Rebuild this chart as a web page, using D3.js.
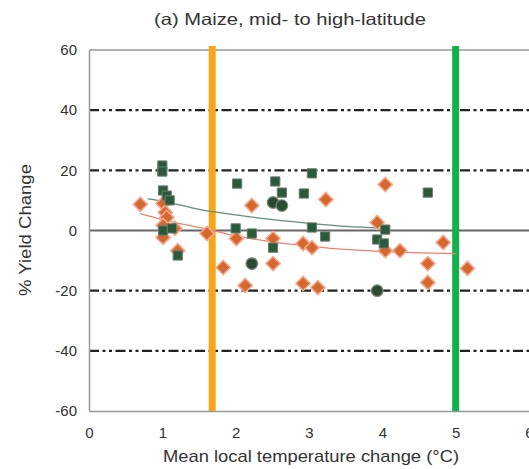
<!DOCTYPE html>
<html>
<head>
<meta charset="utf-8">
<script src="https://cdn.jsdelivr.net/npm/d3@7"></script>
<style>
  body { margin: 0; background: #fff; }
  text { font-family: "Liberation Sans", Arial, sans-serif; fill: #333; }
</style>
</head>
<body>
<div id="chart"></div>
<script>
// orange diamonds: [temp change, yield change]
var diamondX = [0.70, 1.01, 1.04, 1.06, 1.01, 1.17, 1.01, 1.21, 1.61, 1.83, 2.22, 2.01, 2.13, 2.51, 2.51, 2.92, 3.04, 2.92, 3.12, 3.23, 3.93, 4.04, 4.04, 4.24, 4.62, 4.62, 4.83, 5.16];
var diamondY = [8.7, 9.0, 6.0, 4.3, 1.7, 0.7, -2.3, -6.7, -1.0, -12.3, 8.3, -2.7, -18.3, -2.7, -11.0, -4.3, -5.7, -17.6, -19.0, 10.3, 2.7, 15.3, -6.7, -6.7, -11.0, -17.3, -4.0, -12.6];

// dark green squares
var squareX = [1.0, 1.0, 1.01, 1.06, 1.1, 1.01, 1.13, 1.21, 2.02, 2.0, 2.22, 2.54, 2.63, 2.93, 3.04, 2.51, 3.04, 3.22, 4.62, 4.04, 3.93, 4.02];
var squareY = [21.6, 19.6, 13.3, 11.6, 10.0, 0.0, 0.7, -8.3, 15.6, 0.7, -1.0, 16.3, 12.6, 12.3, 19.0, -5.7, 1.0, -2.0, 12.6, 0.3, -3.0, -4.3];

// dark green circles
var circleX = [2.51, 2.63, 2.22, 3.93];
var circleY = [9.3, 8.3, -11.0, -20.0];

// fitted curves
var greenFitX = [0.8, 1.0, 1.5, 2.0, 2.5, 3.0, 3.5, 4.0];
var greenFitY = [10.5, 9.8, 7.0, 5.2, 3.6, 2.4, 1.4, 0.8];
var orangeFitX = [0.7, 1.0, 1.6, 2.0, 2.5, 3.0, 3.5, 4.0, 5.0];
var orangeFitY = [5.6, 3.6, 0.5, -1.8, -3.8, -5.2, -6.3, -7.0, -7.7];

var xTicks = [0, 1, 2, 3, 4, 5, 6];
var yTicks = [-60, -40, -20, 0, 20, 40, 60];
var dashLevels = [-40, -20, 20, 40];
var orangeLineX = 1.68;
var greenLineX = 5.0;

var W = 529, H = 469;
var svg = d3.select("#chart").append("svg")
    .attr("width", W).attr("height", H);

var x = d3.scaleLinear().domain([0, 6]).range([89, 529]);
var y = d3.scaleLinear().domain([-60, 60]).range([411, 50]);

// frame top
svg.append("line")
    .attr("x1", x(0)).attr("x2", W)
    .attr("y1", y(60)).attr("y2", y(60))
    .attr("stroke", "#999").attr("stroke-width", 1.5);

// dash-dot reference lines
svg.selectAll(".dash")
    .data(dashLevels)
    .enter()
    .append("line")
        .attr("x1", x(0)).attr("x2", W)
        .attr("y1", function(d) { return y(d); })
        .attr("y2", function(d) { return y(d); })
        .attr("stroke", "#222").attr("stroke-width", 2.4)
        .attr("stroke-dasharray", "10,3.5,3,3.5,3,3.5");

// zero line
svg.append("line")
    .attr("x1", x(0)).attr("x2", W)
    .attr("y1", y(0)).attr("y2", y(0))
    .attr("stroke", "#666").attr("stroke-width", 1.8);

// axes
var yAxis = svg.append("g")
    .attr("transform", "translate(" + x(0) + ",0)")
    .call(d3.axisLeft(y).tickValues(yTicks).tickSize(0).tickPadding(12)
        .tickFormat(function(d) { return String(d); }));
yAxis.select(".domain").attr("stroke", "#999").attr("stroke-width", 1.5);
yAxis.selectAll("text").style("font-size", "15px").attr("fill", "#333");

var xAxis = svg.append("g")
    .attr("transform", "translate(0," + y(-60) + ")")
    .call(d3.axisBottom(x).tickValues(xTicks).tickSize(0).tickPadding(16).tickFormat(d3.format("d")));
xAxis.select(".domain").attr("stroke", "#999").attr("stroke-width", 1.5);
xAxis.selectAll("text").style("font-size", "15px").attr("fill", "#333");

// vertical threshold lines
svg.append("line")
    .attr("x1", x(orangeLineX)).attr("x2", x(orangeLineX))
    .attr("y1", y(60) - 4).attr("y2", y(-60))
    .attr("stroke", "#f9a51a").attr("stroke-width", 7);
svg.append("line")
    .attr("x1", x(greenLineX)).attr("x2", x(greenLineX))
    .attr("y1", y(60) - 4).attr("y2", y(-60))
    .attr("stroke", "#13b14b").attr("stroke-width", 7);

// fit curves
var line = d3.line()
    .x(function(d) { return x(d[0]); })
    .y(function(d) { return y(d[1]); })
    .curve(d3.curveMonotoneX);

svg.append("path")
    .datum(greenFitX.map(function(v, i) { return [v, greenFitY[i]]; }))
    .attr("d", line)
    .attr("fill", "none").attr("stroke", "#5f8f78").attr("stroke-width", 1.3);

svg.append("path")
    .datum(orangeFitX.map(function(v, i) { return [v, orangeFitY[i]]; }))
    .attr("d", line)
    .attr("fill", "none").attr("stroke", "#f08070").attr("stroke-width", 1.3);

// diamonds
var diamond = d3.symbol().type(d3.symbolSquare).size(100);
svg.selectAll(".dia")
    .data(diamondX.map(function(v, i) { return [v, diamondY[i]]; }))
    .enter()
    .append("path")
        .attr("d", diamond)
        .attr("transform", function(d) { return "translate(" + x(d[0]) + "," + y(d[1]) + ") rotate(45)"; })
        .attr("fill", "#d6672f")
        .attr("stroke", "#f2a88c")
        .attr("stroke-width", 1.6);

// squares
var square = d3.symbol().type(d3.symbolSquare).size(85);
svg.selectAll(".sq")
    .data(squareX.map(function(v, i) { return [v, squareY[i]]; }))
    .enter()
    .append("path")
        .attr("d", square)
        .attr("transform", function(d) { return "translate(" + x(d[0]) + "," + y(d[1]) + ")"; })
        .attr("fill", "#2a5a3a")
        .attr("stroke", "#6c7f70")
        .attr("stroke-width", 1);

// circles
svg.selectAll(".ci")
    .data(circleX.map(function(v, i) { return [v, circleY[i]]; }))
    .enter()
    .append("circle")
        .attr("cx", function(d) { return x(d[0]); })
        .attr("cy", function(d) { return y(d[1]); })
        .attr("r", 5.8)
        .attr("fill", "#2a4a32")
        .attr("stroke", "#7a8a78")
        .attr("stroke-width", 1.2);

// title and axis labels (stretched a bit to match the wider original lettering)
svg.append("text")
    .attr("x", 290).attr("y", 25)
    .style("text-anchor", "middle").style("font-size", "16.5px")
    .attr("textLength", 272).attr("lengthAdjust", "spacingAndGlyphs")
    .text("(a) Maize, mid- to high-latitude");

svg.append("text")
    .attr("transform", "translate(31,230) rotate(-90)")
    .style("text-anchor", "middle").style("font-size", "17px")
    .attr("textLength", 132).attr("lengthAdjust", "spacingAndGlyphs")
    .text("% Yield Change");

svg.append("text")
    .attr("x", 311).attr("y", 462)
    .style("text-anchor", "middle").style("font-size", "17px")
    .attr("textLength", 296).attr("lengthAdjust", "spacingAndGlyphs")
    .text("Mean local temperature change (\u00b0C)");
</script>
</body>
</html>
